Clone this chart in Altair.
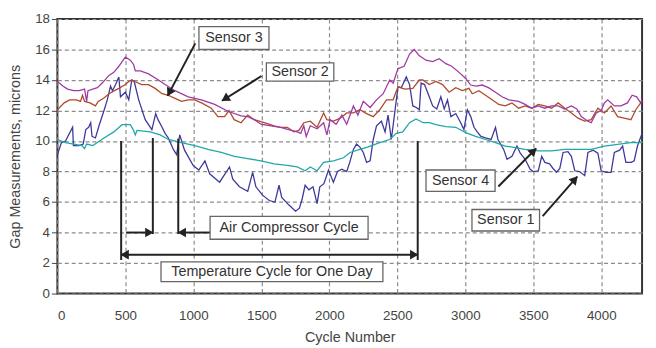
import altair as alt
import pandas as pd

# ---------------- data ----------------
sensor_names = ["Sensor 1", "Sensor 2", "Sensor 3", "Sensor 4"]
sensor_colors = ["#3d3a9a", "#b04a2a", "#a03aa4", "#1fa8a8"]

s1_cycle = [0, 30, 60, 112, 118, 160, 190, 209, 230, 245, 255, 280, 306, 343, 367, 391, 405, 428, 452, 464,
            500, 525, 547, 565, 598, 646, 695, 723, 740, 770, 792, 816, 853, 877, 900, 935, 998, 1040, 1085,
            1120, 1193, 1266, 1290, 1339, 1400, 1436, 1460, 1509, 1558, 1600, 1630, 1650, 1703, 1752, 1780,
            1800, 1822, 1850, 1880, 1910, 1930, 1960, 1994, 2030, 2060, 2092, 2128, 2150, 2177, 2200, 2225,
            2250, 2274, 2300, 2323, 2347, 2383, 2410, 2432, 2456, 2480, 2505, 2530, 2566, 2590, 2614, 2640,
            2662, 2675, 2700, 2735, 2760, 2790, 2820, 2845, 2869, 2894, 2930, 2966, 2990, 3015, 3040, 3064,
            3088, 3115, 3149, 3190, 3222, 3240, 3282, 3307, 3343, 3380, 3404, 3440, 3477, 3500, 3537, 3562,
            3585, 3620, 3645, 3671, 3695, 3719, 3755, 3780, 3805, 3840, 3878, 3902, 3940, 3975, 3999, 4035,
            4072, 4096, 4135, 4157, 4181, 4220, 4242, 4266, 4300]
s1_value = [9.1, 9.9, 10.0, 10.9, 9.7, 9.7, 9.8, 10.75, 10.9, 11.2, 10.3, 10.2, 11.0, 12.0, 12.7, 13.6, 13.3, 13.7, 14.2, 12.9,
            13.2, 12.7, 14.0, 13.9, 12.7, 11.4, 10.75, 11.8, 11.4, 10.9, 10.5, 10.2, 9.45, 9.1, 10.4, 9.4, 8.4, 8.1, 8.7,
            7.85, 7.3, 8.3, 7.5, 7.0, 6.7, 7.95, 7.0, 6.45, 6.1, 6.0, 7.1, 6.3, 5.8, 5.4, 5.6,
            6.2, 7.1, 6.8, 7.0, 5.9, 7.0, 7.2, 8.1, 7.3, 8.0, 8.15, 8.0, 8.6, 9.45, 9.8, 9.6,
            9.25, 8.6, 8.7, 10.1, 11.0, 11.3, 10.6, 11.7, 10.1, 11.8, 13.55, 13.5, 14.2, 13.7, 12.3, 12.2,
            12.05, 13.8, 13.7, 12.9, 12.3, 12.1, 12.9, 12.1, 12.7, 11.6, 11.8, 11.2, 10.75, 12.05, 11.6, 10.9,
            10.6, 10.3, 10.2, 10.1, 10.9, 10.1, 9.45, 8.8, 9.0, 9.67, 9.2, 8.8, 8.15, 8.0, 8.05, 9.0,
            8.6, 8.5, 8.2, 7.95, 8.2, 9.25, 9.3, 9.0, 8.05, 8.0, 7.73, 9.25, 9.4, 9.2, 8.05, 7.95,
            7.95, 9.25, 9.4, 9.67, 8.6, 8.6, 8.7, 9.67, 10.5]

s2_cycle = [0, 50, 90, 140, 170, 185, 200, 240, 280, 300, 340, 380, 420, 452, 500, 525, 547, 570, 620, 670,
            719, 770, 816, 865, 913, 962, 1010, 1060, 1132, 1180, 1230, 1262, 1300, 1351, 1400, 1448, 1521,
            1594, 1642, 1691, 1739, 1776, 1812, 1860, 1910, 1958, 1982, 2031, 2080, 2128, 2177, 2225, 2274,
            2323, 2371, 2420, 2469, 2505, 2554, 2614, 2662, 2687, 2735, 2784, 2833, 2881, 2930, 2978, 3027,
            3051, 3100, 3149, 3197, 3246, 3294, 3343, 3392, 3440, 3489, 3537, 3585, 3635, 3683, 3732, 3780,
            3829, 3878, 3926, 3975, 4023, 4072, 4120, 4169, 4218, 4254, 4290, 4300]
s2_value = [12.05, 12.5, 12.7, 12.7, 12.6, 13.0, 12.6, 12.5, 12.3, 12.6, 12.8, 13.1, 13.3, 13.45, 13.7, 13.9, 14.0, 13.9, 13.7, 13.7,
            13.45, 13.1, 13.0, 12.8, 12.6, 12.7, 12.7, 12.5, 12.15, 11.6, 11.6, 12.0, 11.4, 11.2, 11.7, 11.4, 11.2,
            11.0, 10.9, 10.9, 10.6, 10.7, 11.2, 11.3, 10.9, 11.84, 11.4, 11.3, 11.5, 11.84, 11.84, 12.05, 11.8,
            11.6, 12.05, 12.7, 12.7, 13.55, 13.4, 13.45, 14.0, 14.0, 13.7, 13.9, 13.7, 13.2, 13.5, 13.3, 13.45,
            13.1, 13.3, 13.0, 12.7, 12.4, 12.3, 12.5, 12.15, 12.3, 12.15, 12.4, 12.3, 12.15, 12.5, 12.15, 11.84,
            11.5, 11.3, 11.4, 12.15, 11.84, 12.3, 11.6, 11.5, 11.4, 12.05, 12.5, 12.6]

s3_cycle = [0, 40, 75, 120, 160, 200, 215, 225, 260, 294, 330, 379, 415, 452, 476, 500, 537, 561, 573, 610,
            671, 743, 792, 865, 962, 1059, 1157, 1254, 1351, 1400, 1448, 1497, 1570, 1642, 1700, 1764, 1790,
            1812, 1830, 1860, 1910, 1958, 1982, 2006, 2050, 2092, 2128, 2177, 2210, 2250, 2300, 2347, 2396,
            2444, 2470, 2505, 2550, 2590, 2625, 2660, 2711, 2760, 2808, 2857, 2900, 2954, 3003, 3039, 3080,
            3124, 3170, 3222, 3270, 3320, 3392, 3440, 3489, 3537, 3585, 3635, 3683, 3730, 3780, 3820, 3853,
            3902, 3926, 3963, 3999, 4023, 4047, 4096, 4145, 4192, 4227, 4260, 4290, 4300]
s3_value = [13.9, 13.6, 13.4, 13.3, 13.3, 13.4, 12.6, 13.3, 13.4, 13.5, 13.8, 14.3, 14.5, 14.9, 15.2, 15.5, 15.3, 15.0, 14.6, 14.6,
            14.4, 14.0, 13.7, 13.3, 12.9, 12.7, 12.4, 11.95, 11.65, 11.6, 11.4, 11.1, 11.0, 10.9, 10.75, 10.6, 10.5,
            11.0, 10.3, 11.0, 10.8, 11.2, 10.4, 11.4, 11.1, 11.7, 11.1, 12.3, 11.7, 12.6, 12.2, 12.7, 13.1,
            14.0, 13.8, 14.75, 14.9, 15.7, 16.0, 15.6, 15.3, 15.2, 15.4, 15.07, 14.9, 14.5, 14.1, 13.67, 13.6,
            13.67, 13.5, 13.2, 12.9, 12.7, 12.6, 12.4, 12.15, 12.3, 12.15, 12.3, 12.3, 12.1, 12.3, 12.1, 11.6,
            11.3, 11.2, 11.84, 12.0, 12.5, 12.7, 12.3, 12.3, 12.5, 13.0, 12.9, 12.5, 12.7]

s4_cycle = [0, 60, 120, 180, 200, 215, 260, 294, 343, 415, 476, 537, 560, 573, 586, 683, 756, 816, 912, 1010,
            1108, 1205, 1302, 1400, 1497, 1594, 1691, 1764, 1822, 1860, 1910, 1958, 2031, 2104, 2152, 2225,
            2280, 2371, 2444, 2493, 2540, 2590, 2638, 2690, 2735, 2784, 2857, 2930, 3003, 3076, 3149, 3222,
            3294, 3367, 3440, 3537, 3635, 3732, 3829, 3926, 4023, 4120, 4217, 4300]
s4_value = [10.1, 9.9, 9.8, 9.7, 9.5, 9.8, 9.7, 9.9, 10.2, 10.6, 11.07, 11.07, 10.7, 10.4, 10.7, 10.6, 10.4, 10.1, 9.9, 9.7,
            9.45, 9.25, 9.0, 8.85, 8.7, 8.5, 8.4, 8.3, 8.05, 8.3, 8.05, 8.6, 8.7, 8.9, 9.25, 9.45,
            9.6, 9.9, 10.1, 10.5, 10.6, 11.2, 11.45, 11.2, 11.2, 11.07, 10.95, 10.9, 10.55, 10.3, 10.1, 9.9,
            9.67, 9.57, 9.45, 9.35, 9.35, 9.45, 9.45, 9.45, 9.67, 9.78, 9.9, 9.9]

x_ticks = [0, 500, 1000, 1500, 2000, 2500, 3000, 3500, 4000]
y_ticks = [0, 2, 4, 6, 8, 10, 12, 14, 16, 18]

# annotation data
vline_cycle = [469, 702, 889, 2650]
vline_top = [10.0, 10.2, 10.15, 10.0]
vline_bottom = [2.2, 3.9, 3.9, 2.2]

hline_x = [505, 1125, 475]
hline_x2 = [690, 900, 2645]
hline_y = [4.0, 4.0, 2.55]

diag_x = [1014, 1501, 3243, 3569]
diag_y = [16.4, 14.26, 7.02, 5.07]
diag_x2 = [811, 1211, 3521, 3823]
diag_y2 = [12.96, 12.64, 9.51, 7.66]

head_x = [666, 925, 505, 2614, 828, 1242, 3495, 3799]
head_y = [4.0, 4.0, 2.55, 2.55, 13.25, 12.81, 9.28, 7.42]
head_angle = [90, 270, 270, 90, 208, 238, 45, 41]

box_text = ["Sensor 3", "Sensor 2", "Air Compressor Cycle", "Temperature Cycle for One Day", "Sensor 4", "Sensor 1"]
box_x = [1041, 1537, 1123, 762, 2711, 3049]
box_x2 = [1556, 2033, 2285, 2394, 3219, 3546]
box_y = [17.5, 15.12, 5.06, 2.07, 8.1, 5.51]
box_y2 = [16.0, 13.93, 3.56, 0.78, 6.7, 4.1]

# ---------------- build ----------------
FONT = "Liberation Sans"
rows = []
for name, cs, vs in [("Sensor 1", s1_cycle, s1_value), ("Sensor 2", s2_cycle, s2_value),
                     ("Sensor 3", s3_cycle, s3_value), ("Sensor 4", s4_cycle, s4_value)]:
    for c, v in zip(cs, vs):
        rows.append({"sensor": name, "cycle": c, "value": v})
df = pd.DataFrame(rows)

xs = alt.Scale(domain=[0, 4300], nice=False, zero=False)
ys = alt.Scale(domain=[0, 18], nice=False, zero=False)

x_axis = alt.Axis(values=x_ticks, grid=True, domain=False, ticks=False, tickSize=0, labelPadding=15,
                  titlePadding=9, format="d")
y_axis = alt.Axis(values=y_ticks, grid=True, domain=False, tickSize=6, tickColor="#444",
                  labelPadding=2, titlePadding=12)


def X(field):
    return alt.X(field, scale=xs, axis=x_axis, title="Cycle Number")


def Y(field):
    return alt.Y(field, scale=ys, axis=y_axis, title="Gap Measurements, microns")


lines = alt.Chart(df).mark_line(strokeWidth=1.3).encode(
    x=X("cycle:Q"),
    y=Y("value:Q"),
    color=alt.Color("sensor:N", scale=alt.Scale(domain=sensor_names, range=sensor_colors), legend=None),
    detail="sensor:N",
)

vdf = pd.DataFrame({"x": vline_cycle, "top": vline_top, "bottom": vline_bottom})
vlines = alt.Chart(vdf).mark_rule(color="#222", strokeWidth=2).encode(
    x=X("x:Q"), y=Y("top:Q"), y2="bottom:Q")

hdf = pd.DataFrame({"x": hline_x, "x2": hline_x2, "y": hline_y})
hlines = alt.Chart(hdf).mark_rule(color="#222", strokeWidth=2).encode(
    x=X("x:Q"), x2="x2:Q", y=Y("y:Q"))

ddf = pd.DataFrame({"x": diag_x, "y": diag_y, "x2": diag_x2, "y2": diag_y2})
dlines = alt.Chart(ddf).mark_rule(color="#222", strokeWidth=2).encode(
    x=X("x:Q"), y=Y("y:Q"), x2="x2:Q", y2="y2:Q")

headdf = pd.DataFrame({"x": head_x, "y": head_y, "a": head_angle})
heads = alt.Chart(headdf).mark_point(shape="triangle", filled=True, size=95, color="#222", opacity=1).encode(
    x=X("x:Q"), y=Y("y:Q"), angle=alt.Angle("a:Q", scale=None))

bdf = pd.DataFrame({"t": box_text, "x": box_x, "x2": box_x2, "y": box_y, "y2": box_y2})
bdf["cx"] = (bdf["x"] + bdf["x2"]) / 2
bdf["cy"] = (bdf["y"] + bdf["y2"]) / 2
boxes = alt.Chart(bdf).mark_rect(fill="white", stroke="#666", strokeWidth=1.3).encode(
    x=X("x:Q"), x2="x2:Q", y=Y("y:Q"), y2="y2:Q")
texts = alt.Chart(bdf).mark_text(font=FONT, fontSize=14.5, color="#333", baseline="middle", align="center").encode(
    x=X("cx:Q"), y=Y("cy:Q"), text="t:N")

chart = alt.layer(lines, vlines, hlines, dlines, boxes, texts, heads).properties(
    width=592, height=278,
    background="white",
    autosize=alt.AutoSizeParams(type="none"),
    padding={"left": 50, "top": 9, "right": 6, "bottom": 53},
).configure_view(stroke="#333", strokeWidth=2).configure_axis(
    gridDash=[4, 3], gridColor="#8c8c8c", gridWidth=1.2,
    labelFont=FONT, labelFontSize=13.5, labelColor="#444",
    titleFont=FONT, titleFontSize=14.5, titleFontWeight="normal", titleColor="#444",
)

chart.save("out.html", embed_options={"renderer": "svg", "actions": False})
